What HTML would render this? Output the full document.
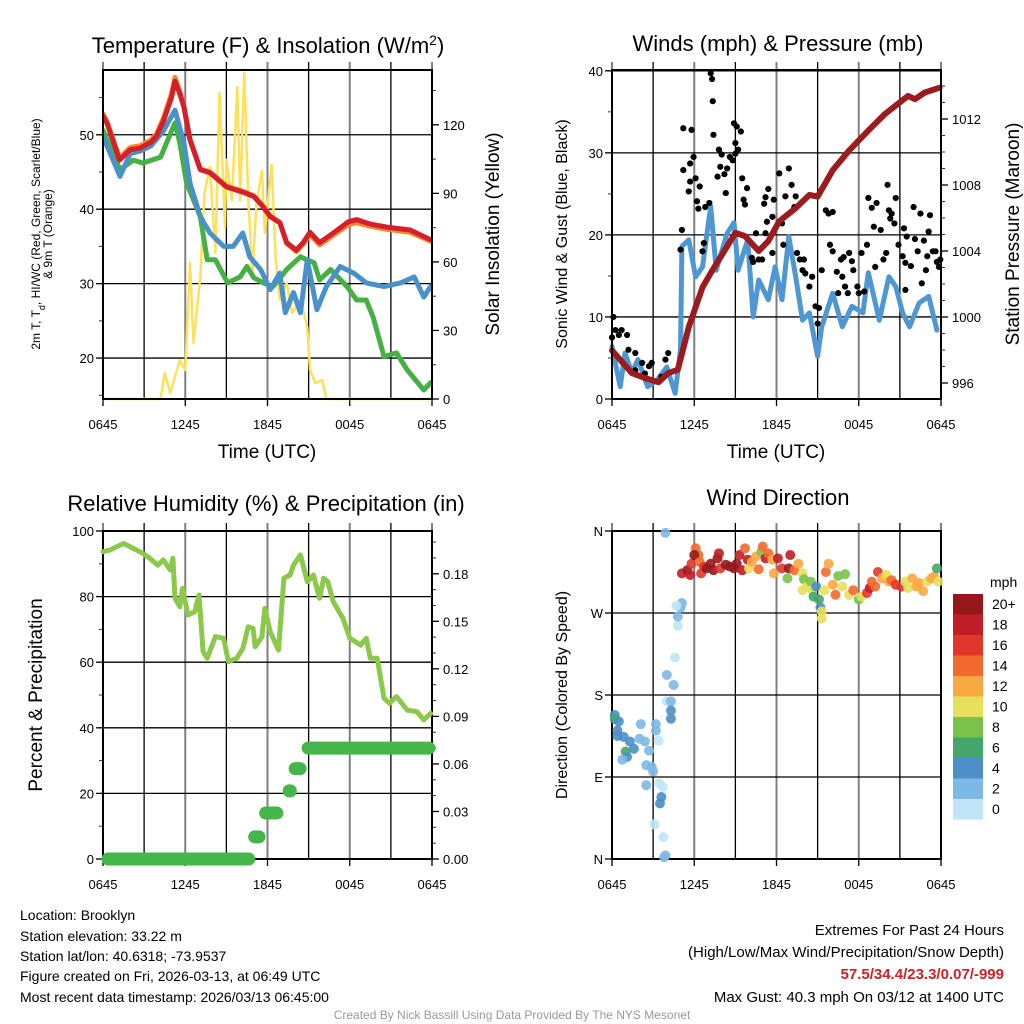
<!DOCTYPE html>
<html><head><meta charset="utf-8">
<style>
html,body{margin:0;padding:0;background:#fff;}
svg{display:block;font-family:"Liberation Sans",Arial,sans-serif;}
</style></head>
<body>
<svg id="s" width="1024" height="1024" viewBox="0 0 1024 1024" xmlns="http://www.w3.org/2000/svg">
<rect width="1024" height="1024" fill="#fff"/>
<text x="268" y="53" font-size="22" text-anchor="middle">Temperature (F) &amp; Insolation (W/m<tspan baseline-shift="super" font-size="14">2</tspan>)</text>
<text x="778" y="51" font-size="22" text-anchor="middle">Winds (mph) &amp; Pressure (mb)</text>
<text x="266" y="511" font-size="22" text-anchor="middle">Relative Humidity (%) &amp; Precipitation (in)</text>
<text x="778" y="505" font-size="22" text-anchor="middle">Wind Direction</text>

<text x="267" y="458" font-size="19" text-anchor="middle">Time (UTC)</text>
<text x="776" y="458" font-size="19" text-anchor="middle">Time (UTC)</text>

<text transform="translate(40,234) rotate(-90)" font-size="12" text-anchor="middle">2m T, T<tspan baseline-shift="sub" font-size="9">d</tspan>, HI/WC (Red, Green, Scarlet/Blue)</text>
<text transform="translate(52,234) rotate(-90)" font-size="12" text-anchor="middle">&amp; 9m T (Orange)</text>
<text transform="translate(499,234) rotate(-90)" font-size="19" text-anchor="middle">Solar Insolation (Yellow)</text>
<text transform="translate(567,234) rotate(-90)" font-size="16" text-anchor="middle">Sonic Wind &amp; Gust (Blue, Black)</text>
<text transform="translate(1019,234) rotate(-90)" font-size="19" text-anchor="middle">Station Pressure (Maroon)</text>
<text transform="translate(42,695) rotate(-90)" font-size="19" text-anchor="middle">Percent &amp; Precipitation</text>
<text transform="translate(567,695) rotate(-90)" font-size="16" text-anchor="middle">Direction (Colored By Speed)</text>

<g font-size="14">
<text x="20" y="920">Location: Brooklyn</text>
<text x="20" y="941">Station elevation: 33.22 m</text>
<text x="20" y="961">Station lat/lon: 40.6318; -73.9537</text>
<text x="20" y="981">Figure created on Fri, 2026-03-13, at 06:49 UTC</text>
<text x="20" y="1002">Most recent data timestamp: 2026/03/13 06:45:00</text>
</g>
<g font-size="15" text-anchor="end">
<text x="1004" y="935">Extremes For Past 24 Hours</text>
<text x="1004" y="957">(High/Low/Max Wind/Precipitation/Snow Depth)</text>
<text x="1004" y="979" fill="#cc2229" font-weight="bold">57.5/34.4/23.3/0.07/-999</text>
<text x="1004" y="1002">Max Gust: 40.3 mph On 03/12 at 1400 UTC</text>
</g>
<text x="512" y="1019" font-size="12" fill="#999" text-anchor="middle">Created By Nick Bassill Using Data Provided By The NYS Mesonet</text>
<g id="layer"></g>
</svg>
<script>
// ---------- DATA ----------
const xTickLabels = ["0645","1245","1845","0045","0645"];
// Panel 1
const tHours = [0,0.3,1.2,2,2.7,3.5,3.9,4.4,5,5.25,5.6,5.9,6.35,7.1,7.8,9,10.2,11,11.6,12.2,12.9,13.4,14.1,14.6,15.1,15.8,16.8,17.9,18.5,19.5,20.7,22.4,23.9];
const tempVals = [52.5,51.5,46.6,48,48.2,49,49.8,51.8,55,57.2,55.5,53.7,49.3,45.3,44.9,43,42.3,41.7,40.5,39,38.2,35.5,34.5,35.5,36.9,35.5,36.8,38.3,38.6,38.0,37.6,37.2,35.9];
const temp9mVals = [52.8,51.7,46.9,48.3,48.5,49.3,50.1,52.2,55.5,57.7,55.8,53.9,49.4,45.4,45.0,43.1,42.4,41.8,40.6,39.1,38.2,35.4,34.3,35.3,36.6,35.2,36.5,37.9,38.2,37.7,37.3,36.9,35.7];
const tdHours = [0,1.24,2.2,2.9,4.2,5.25,5.6,6.1,7.1,7.6,8.2,9.1,10,10.5,11,11.7,12.4,13.4,14.4,15.4,15.8,16.6,17.8,18.5,19.2,19.7,20.5,21.4,22.2,23.4,23.9];
const tdVals = [50.6,45.3,46.6,46.2,47.0,51.6,48.9,43.5,39,33.2,33.2,30.1,30.9,32.3,30.8,30.1,29.6,31.9,33.6,32.8,30.5,31.9,29.6,27.8,27.8,25.5,20.2,20.7,18.4,15.7,16.7];
const wcHours = [0,0.5,1.24,2,2.7,3.5,4.4,5.25,5.9,6.35,7.1,7.8,8.8,9.5,10.2,10.7,11.5,12.2,12.9,13.3,13.9,14.4,14.9,15.6,16.3,17.3,18.3,19.2,20.5,21.7,22.7,23.4,23.9];
const wcVals = [49.7,47.6,44.4,47.5,47.8,48.5,50.5,53.3,48.9,43.5,39,36.8,35,35,36.8,33.6,31.9,29.2,31.4,26.1,28.8,26.1,33.2,26.5,29.6,32.3,31.4,30.1,29.6,30.1,30.9,28.2,29.6];
const solHours = [0,4.2,4.5,4.9,5.6,6,6.35,6.6,7.1,7.4,7.8,8.2,8.5,8.9,9.0,9.4,9.8,10,10.3,10.6,10.9,11.2,11.6,11.8,12.3,12.6,12.9,13.4,13.8,14.4,14.9,15.1,15.5,16,16.3,24];
const solVals = [0,0,11.4,2.6,17,12.7,59.6,24.5,53.4,90,101.6,64,134,75,104.7,87,136.6,87,142.8,87,55,85.8,100,72.7,102.5,61,43.4,50.8,37.7,43.4,31.5,12.7,7,8.3,0,0];
// Panel 2
const windHours = [0,0.6,0.95,1.45,1.9,2.6,3.3,4.0,4.6,5.0,5.1,5.6,6.1,6.6,7.2,7.6,8.4,8.9,9.2,9.9,10.3,10.7,11.4,11.9,12.4,12.9,13.4,13.9,14.4,15,15.3,16.1,16.8,17.5,18.3,18.7,19.5,20.2,20.7,21.2,21.7,22.4,23.1,23.7];
const windVals = [6.4,1.5,5.6,3.2,4.8,1.5,2.3,3.9,0.7,6,18.6,19.4,14.9,16.1,23.5,15.7,20.2,21.5,15.7,19.4,10,14.5,12.1,16.1,12.1,19.8,14.9,9.6,10.5,5.2,8.8,12.9,8.8,11.3,10.5,15.4,9.6,14.9,13.7,10.5,8.8,11.7,12.5,8.4];
const gustHours = [0.1,0.25,0.7,0.5,1.1,0,1.2,1.7,2.2,2.7,2.9,1.7,4.1,3.9,2.4,3.6,5.1,5.0,5.2,5.2,5.8,5.7,5.95,5.7,6.1,5.6,6.4,6.2,6.3,6.8,7.1,6.7,6.6,7.2,7.3,7.35,7.4,7.8,8.0,7.9,7.7,8.2,8.3,8.4,8.6,8.9,9.1,9.0,9.2,9.0,8.8,9.4,9.5,9.85,9.6,9.7,10.5,10.3,10.2,10.7,10.95,11.2,11.1,11.2,11.3,11.4,11.7,11.7,11.8,12.2,12.4,12.5,12.65,12.9,13.1,13.3,13.4,13.5,13.7,13.9,14.0,14.1,14.4,14.6,14.85,15.0,15.1,15.3,15.6,15.8,16.1,15.9,16.1,16.4,16.7,16.5,16.8,16.9,17.0,17.3,17.2,17.5,17.6,17.9,18.0,18.4,18.2,18.6,18.7,18.95,19.1,19.2,19.3,19.6,19.8,20.0,20.1,20.2,20.3,20.4,20.7,20.6,20.9,21.2,21.3,21.4,21.4,21.5,21.8,22.0,22.1,22.3,22.5,22.6,22.75,22.9,23.0,23.1,23.2,23.4,23.6,23.7,23.85,23.95];
const gustVals = [10.0,8.4,8.4,7.8,7.8,7.5,6.0,5.6,4.4,4.0,4.4,3.5,5.6,4.8,3.1,2.7,20.6,18.2,33.0,27.9,32.8,28.7,29.5,26.5,26.9,25.3,25.9,24.1,23.2,23.4,23.9,19.0,18.0,39.7,39.0,36.3,32.2,30.4,29.8,28.3,27.1,27.4,25.1,28.1,29.5,33.6,33.2,31.2,30.4,29.9,29.1,32.6,26.9,25.7,24.3,23.7,20.2,16.7,17.2,17.0,17.0,20.2,23.8,24.6,21.6,25.6,22.2,17.8,24.3,27.5,21.4,18.8,24.7,28.1,26.1,23.4,24.7,17.8,17.0,15.7,17.0,15.3,13.7,14.9,11.3,9.2,11.1,15.7,23.0,22.6,22.8,18.8,18.0,15.5,17.0,12.9,14.9,17.3,13.7,17.8,12.9,16.8,15.7,13.7,12.9,13.1,17.8,18.8,24.5,23.3,21.0,16.1,23.9,20.6,17.0,17.8,26.1,23.0,22.0,22.6,24.5,21.4,18.8,17.4,20.8,16.6,13.3,19.8,16.2,23.4,19.5,18.0,22.6,14.1,19.3,15.7,17.4,20.4,22.4,18.0,18.0,16.7,16.1,17.0];
const presHours = [0,1.45,2.4,3.4,4.1,4.8,5.6,6.6,7.3,9,9.7,10.7,11.4,12.2,13.4,14.4,15,16.1,17.3,18.7,19.9,21.6,22.1,22.8,23.9];
const presVals = [997.97,996.6,996.3,996.05,996.6,996.8,999.4,1001.8,1002.8,1005.1,1004.9,1004.0,1004.6,1005.8,1006.6,1007.4,1007.3,1008.9,1010.1,1011.3,1012.3,1013.4,1013.2,1013.6,1013.9];
// Panel 3
const rhHours = [0,0.5,1.5,2.2,2.9,3.4,4.0,4.4,4.9,5.1,5.25,5.6,5.8,6.2,6.7,7.0,7.3,7.6,8.2,8.8,9.15,9.75,10.2,10.6,10.95,11.1,11.6,11.8,12.2,12.8,13.2,13.65,13.9,14.4,14.9,15.35,15.8,16.1,16.4,16.8,17.5,18.0,18.8,19.2,19.5,20.0,20.5,20.9,21.4,22.2,22.9,23.4,23.9];
const rhVals = [93.7,94.2,96.2,94.7,93.2,91.7,89.6,91.2,88.1,91.7,79.5,76.9,82.5,74.4,75.4,80.5,63.2,61.2,67.8,67.3,60.2,61.2,64.2,70.8,70.3,64.7,67.8,76.4,69.3,63.7,85.6,86.6,89.6,92.7,84.5,86.6,79.5,85.6,84.5,78.4,73.4,67.3,65.2,67.3,61.2,61.2,49.0,47.5,49.5,45.4,44.9,42.4,44.4];
const precipStart = [0,10.7,11.5,13.3,13.65,14.6];
const precipEnd = [10.85,11.6,12.9,13.8,14.6,24];
const precipVals = [0,0.014,0.029,0.043,0.057,0.07];
// Panel 4
const dirHours = [0.2,0.2,0.5,0.4,0.4,0.85,1.3,1.0,1.1,0.75,1.6,2.0,2.1,2.4,2.7,2.5,2.9,3.0,2.5,3.2,3.2,3.4,3.45,3.6,3.5,3.7,3.1,3.75,3.9,3.8,3.9,4.0,4.3,4.3,4.3,4.0,4.5,4.6,4.8,4.8,5.0,5.1,4.7,5.1,5.5,5.7,5.8,6.1,6.3,6.0,6.4,6.5,6.7,6.9,7.2,7.4,7.7,7.8,7.9,8.3,8.6,8.9,9.1,9.3,9.5,9.7,9.9,10.0,10.2,10.5,10.7,10.9,11.0,11.2,11.4,11.7,11.8,12.1,12.4,12.8,12.9,13.0,13.3,13.6,13.9,14.0,13.9,14.2,14.5,14.6,14.9,14.7,15.1,15.2,15.3,15.3,15.6,15.8,15.5,16.1,16.3,16.5,17.0,16.8,17.3,17.6,18.0,18.2,18.6,18.8,18.95,19.2,19.4,19.7,20.0,20.2,20.4,20.7,21.1,21.4,21.6,21.9,22.2,22.4,22.7,23.0,23.3,23.5,23.7,23.8];
const dirVals = [158,153.7,151,141,135,134,129,118,112,109,121,132,148,129,119,103,101,96,81,141,148,130,83,68,61,79,38,24,4,2,358,173,173,163,154,202,191,221,256,266,276,281,278,313.5,317,311.7,324,341,333.6,333.6,326,313.5,320.8,319,324,317,330,335.5,319,323,321,319,324,333.6,317,341,328.5,319,326,332,318,337.5,343,330,335.5,328.5,313.5,330,319,308,319,333.6,317,324,313.5,307,295,299,304.5,295,299,288,285,276,271.6,264,315,324,295,301,290,310.6,312.6,299,290,295,285,288,292,297.5,304.5,299,315,308,312,304.5,306,301,299,304.5,297.5,308,299,303,294,304.5,308,310,319,304.5];
const dirSpeeds = [4,6,4,4,4,4,4,6,4,2,4,2,2,2,2,2,2,2,2,2,2,0,0,4,4,0,0,0,2,2,2,0,2,4,4,2,2,0,0,2,2,2,0,18,20,18,16,14,14,20,14,16,16,20,20,20,20,18,16,20,20,20,20,18,18,14,18,10,12,12,14,8,14,18,14,12,12,18,16,8,20,18,14,12,10,8,10,10,8,10,4,6,6,4,10,10,14,12,10,12,14,8,8,10,10,14,8,10,16,18,14,14,16,12,10,12,14,16,16,10,10,12,12,12,12,10,12,12,6,10];
const cbLabels = ["20+","18","16","14","12","10","8","6","4","2","0"];
const cbColors = ["#96181d","#bf1e26","#e0362c","#f26a2d","#f9a943","#e6e05c","#7ac24b","#44a66a","#4b8fc6","#7db9e6","#bfe5f7"];

// ---------- DRAW ----------
const NS="http://www.w3.org/2000/svg";
const layer=document.getElementById('layer');
function mk(tag,attrs,parent){const e=document.createElementNS(NS,tag);for(const k in attrs)e.setAttribute(k,attrs[k]);(parent||layer).appendChild(e);return e;}
function panel(x0,y0,w,h,name){
  const g=mk('g',{});
  
  
  const xs=t=>x0+t/24*w;
  for(let i=0;i<=8;i++){
    const X=xs(i*3);
    const major=i%2===0;
    const ln=mk('line',{x1:X,x2:X,y1:y0-8,y2:y0+h,stroke:major?'#808080':'#000','stroke-width':major?2:1.3},g);
    
    
  }
  xTickLabels.forEach((lab,i)=>{
    const t=mk('text',{x:xs(i*6),y:y0+h+30,'font-size':13,'text-anchor':'middle'},g);
    t.textContent=lab;
    
    
    mk('line',{x1:xs(i*6),x2:xs(i*6),y1:y0+h,y2:y0+h+7,stroke:'#000','stroke-width':1.3},g);
  });
  return {g,xs};
}
function yAxis(P,x0,y0,w,h,min,max,ticks,labels,side,minorStep,grid){
  const ys=v=>y0+h-(v-min)/(max-min)*h;
  const g=P.g;
  if(minorStep){for(let v=Math.ceil(min/minorStep)*minorStep;v<=max+1e-9;v+=minorStep){const Y=ys(v);if(side==='left')mk('line',{x1:x0-4,x2:x0,y1:Y,y2:Y,stroke:'#333','stroke-width':1},g);else mk('line',{x1:x0+w,x2:x0+w+4,y1:Y,y2:Y,stroke:'#333','stroke-width':1},g);}}
  ticks.forEach((v,i)=>{
    const Y=ys(v);
    if(grid){const gl=mk('line',{x1:x0,x2:x0+w,y1:Y,y2:Y,stroke:'#000','stroke-width':1.3},g);
      
      }
    if(side==='left'){mk('line',{x1:x0-7,x2:x0,y1:Y,y2:Y,stroke:'#000','stroke-width':1.3},g);
      const t=mk('text',{x:x0-9,y:Y+5,'font-size':13,'text-anchor':'end'},g);t.textContent=labels[i];
      
      }
    else{mk('line',{x1:x0+w,x2:x0+w+7,y1:Y,y2:Y,stroke:'#000','stroke-width':1.3},g);
      const t=mk('text',{x:x0+w+11,y:Y+5,'font-size':13,'text-anchor':'start'},g);t.textContent=labels[i];
      
      }
  });
  return ys;
}
function line(P,xs,ys,hrs,vals,color,wid,name){
  const d=hrs.map((t,i)=>(i?'L':'M')+xs(t).toFixed(1)+','+ys(vals[i]).toFixed(1)).join('');
  const p=mk('path',{d:d,fill:'none',stroke:color,'stroke-width':wid,'stroke-linejoin':'round','stroke-linecap':'round'},P.g);
  
  
  return p;
}
function frame(P,x0,y0,w,h){mk('rect',{x:x0,y:y0,width:w,height:h,fill:'none',stroke:'#000','stroke-width':2},P.g);}
function clip(id,x0,y0,w,h){const c=mk('clipPath',{id:id});mk('rect',{x:x0,y:y0,width:w,height:h},c);}

// Panel 1
{const x0=103,y0=70,w=329,h=329;
 const P=panel(x0,y0,w,h,'temperature-panel');
 const ys=yAxis(P,x0,y0,w,h,14.5,58.7,[20,30,40,50],["20","30","40","50"],'left',5,true);
 const ys2=yAxis(P,x0,y0,w,h,0,144,[0,30,60,90,120],["0","30","60","90","120"],'right',15,false);
 clip('c1',x0,y0,w,h+3);
 const G=mk('g',{'clip-path':'url(#c1)'},P.g);const Q={g:G};
 frame(P,x0,y0,w,h);
 line(Q,P.xs,ys2,solHours,solVals,'#fde15a',2.5,'insolation-line');
 line(Q,P.xs,ys,tdHours,tdVals,'#45b044',5,'dewpoint-line');
 line(Q,P.xs,ys,wcHours,wcVals,'#4a90c9',5,'wind-chill-line');
 line(Q,P.xs,ys,tHours,temp9mVals,'#f7862e',5,'temp-9m-line');
 line(Q,P.xs,ys,tHours,tempVals,'#d4202a',5,'temp-2m-line');
}
// Panel 2
{const x0=612,y0=70,w=329,h=329;
 const P=panel(x0,y0,w,h,'winds-panel');
 const ys=yAxis(P,x0,y0,w,h,0,40.1,[0,10,20,30,40],["0","10","20","30","40"],'left',5,true);
 const ys2=yAxis(P,x0,y0,w,h,995.03,1014.97,[996,1000,1004,1008,1012],["996","1000","1004","1008","1012"],'right',1,false);
 clip('c2',x0-4,y0-4,w+8,h+8);
 const G=mk('g',{'clip-path':'url(#c2)'},P.g);const Q={g:G};
 frame(P,x0,y0,w,h);
 line(Q,P.xs,ys,windHours,windVals,'#4f97d2',5,'sonic-wind-line');
 gustHours.forEach((t,i)=>{const c=mk('circle',{cx:P.xs(t),cy:ys(gustVals[i]),r:3.1,fill:'#000'},G);
   
   });
 line(Q,P.xs,ys2,presHours,presVals,'#9b1b1f',6,'pressure-line');
}
// Panel 3
{const x0=103,y0=531,w=329,h=328;
 const P=panel(x0,y0,w,h,'humidity-panel');
 const ys=yAxis(P,x0,y0,w,h,0,100,[0,20,40,60,80,100],["0","20","40","60","80","100"],'left',10,true);
 const ys2=yAxis(P,x0,y0,w,h,0,0.207,[0,0.03,0.06,0.09,0.12,0.15,0.18],["0.00","0.03","0.06","0.09","0.12","0.15","0.18"],'right',0.01,false);
 frame(P,x0,y0,w,h);
 line(P,P.xs,ys,rhHours,rhVals,'#8cc84b',5,'humidity-line');
 precipVals.forEach((v,i)=>{const l=mk('line',{x1:P.xs(precipStart[i])+5,x2:P.xs(precipEnd[i])-3,y1:ys2(v),y2:ys2(v),stroke:'#45b649','stroke-width':13,'stroke-linecap':'round'},P.g);
   
   });
}
// Panel 4
{const x0=612,y0=531,w=329,h=328;
 const P=panel(x0,y0,w,h,'wind-direction-panel');
 const ys=yAxis(P,x0,y0,w,h,0,360,[0,90,180,270,360],["N","E","S","W","N"],'left',0,true);
 const binColor=s=>cbColors[Math.max(0,Math.min(10,10-Math.floor(s/2)))];
 frame(P,x0,y0,w,h);
 dirHours.forEach((t,i)=>{const c=mk('circle',{cx:P.xs(t),cy:ys(dirVals[i]),r:5,fill:binColor(dirSpeeds[i]),'fill-opacity':0.9},P.g);
   
   });
 const lg=mk('g',{});
 
 
 const mt=mk('text',{x:990,y:587,'font-size':14},lg);mt.textContent='mph';
 cbColors.forEach((c,i)=>{mk('rect',{x:953,y:594+i*20.5,width:30,height:20.6,fill:c},lg);
   const t=mk('text',{x:992,y:609+i*20.5,'font-size':14},lg);t.textContent=cbLabels[i];
   
   });
}
</script>
</body></html>
